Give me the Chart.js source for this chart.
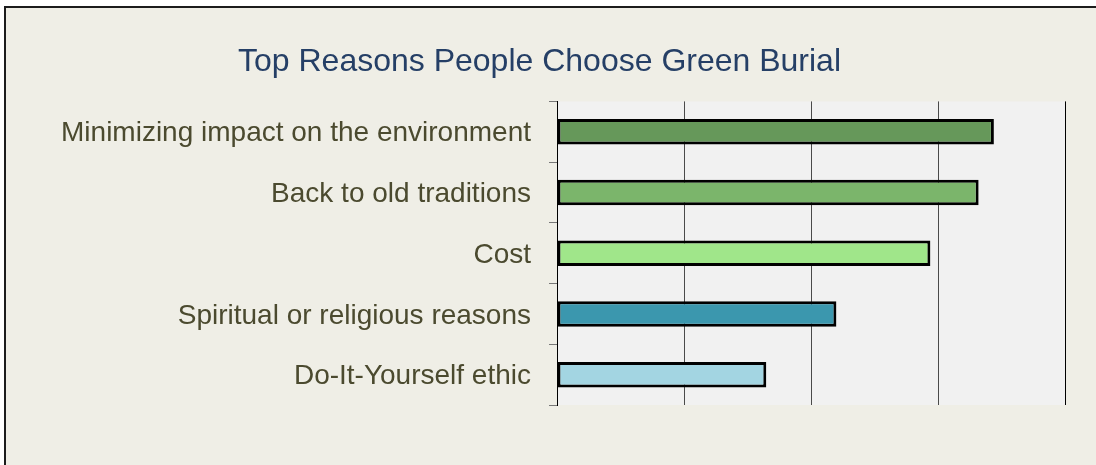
<!DOCTYPE html>
<html>
<head>
<meta charset="utf-8">
<title>Top Reasons People Choose Green Burial</title>
<script src="https://cdn.jsdelivr.net/npm/chart.js@4/dist/chart.umd.min.js"></script>
<style>
  html, body { margin: 0; padding: 0; background: #ffffff; overflow: hidden; }
  #frame {
    position: absolute; left: 4px; top: 6px; width: 1200px; height: 600px;
    border-top: 2px solid #1c1c1c; border-left: 2px solid #1c1c1c;
    background: #efeee6;
  }
  #wrap { position: absolute; left: 0; top: 0; width: 1096px; height: 465px; }
</style>
</head>
<body>
<div id="frame"></div>
<div id="wrap"><canvas id="chartreasons"></canvas></div>
<script>
// survey answers, top to bottom
reasons = ["Minimizing impact on the environment", "Back to old traditions", "Cost", "Spiritual or religious reasons", "Do-It-Yourself ethic"];
shares = [86, 83, 73.5, 55, 41.2];
barColors = ["#66985a", "#7bb56b", "#a0e68a", "#3b97ae", "#a3d5e2"];
xTicks = [0, 25, 50, 75, 100];

// light panel behind the bars
const plotBg = {
    id: "plotBg",
    beforeDraw(chart) {
        let a = chart.chartArea;
        let c = chart.ctx;
        c.save();
        c.fillStyle = "#f1f1f1";
        c.fillRect(a.left, a.top, a.right - a.left, a.bottom - a.top);
        c.restore();
    }
};

function drawChart() {
    let ctx = document.getElementById("chartreasons").getContext("2d");
    new Chart(ctx, {
        type: "bar",
        data: {
            labels: reasons,
            datasets: [{
                data: shares,
                backgroundColor: barColors,
                borderColor: "#000000",
                borderWidth: 3,
                borderSkipped: false,
                barPercentage: 0.42,
                categoryPercentage: 1
            }]
        },
        options: {
            indexAxis: "y",
            animation: false,
            responsive: true,
            maintainAspectRatio: false,
            layout: { padding: { left: 14, right: 31, top: 0, bottom: 60 } },
            scales: {
                x: {
                    min: xTicks[0],
                    max: xTicks[xTicks.length - 1],
                    afterBuildTicks: s => { s.ticks = xTicks.map(v => ({ value: v })); },
                    ticks: { display: false },
                    border: { display: false },
                    grid: {
                        drawTicks: false,
                        lineWidth: 1,
                        color: c => c.tick && c.tick.value === 100 ? "#000000" : "#4a4a4a"
                    }
                },
                y: {
                    afterFit: s => { s.width = 543; },
                    border: { color: "#000000", width: 1 },
                    grid: {
                        offset: true,
                        drawOnChartArea: false,
                        tickLength: 8,
                        tickColor: "#777777"
                    },
                    ticks: {
                        padding: 18,
                        labelOffset: 2,
                        color: "#4b4a2f",
                        font: { family: "'Liberation Sans', Arial, sans-serif", size: 28 }
                    }
                }
            },
            plugins: {
                legend: { display: false },
                tooltip: { enabled: false },
                title: {
                    display: true,
                    text: "Top Reasons People Choose Green Burial",
                    color: "#253f66",
                    font: { family: "'Liberation Sans', Arial, sans-serif", size: 32, weight: "normal" },
                    padding: { top: 43, bottom: 20 }
                }
            }
        },
        plugins: [plotBg]
    });
}
drawChart();
</script>
</body>
</html>
